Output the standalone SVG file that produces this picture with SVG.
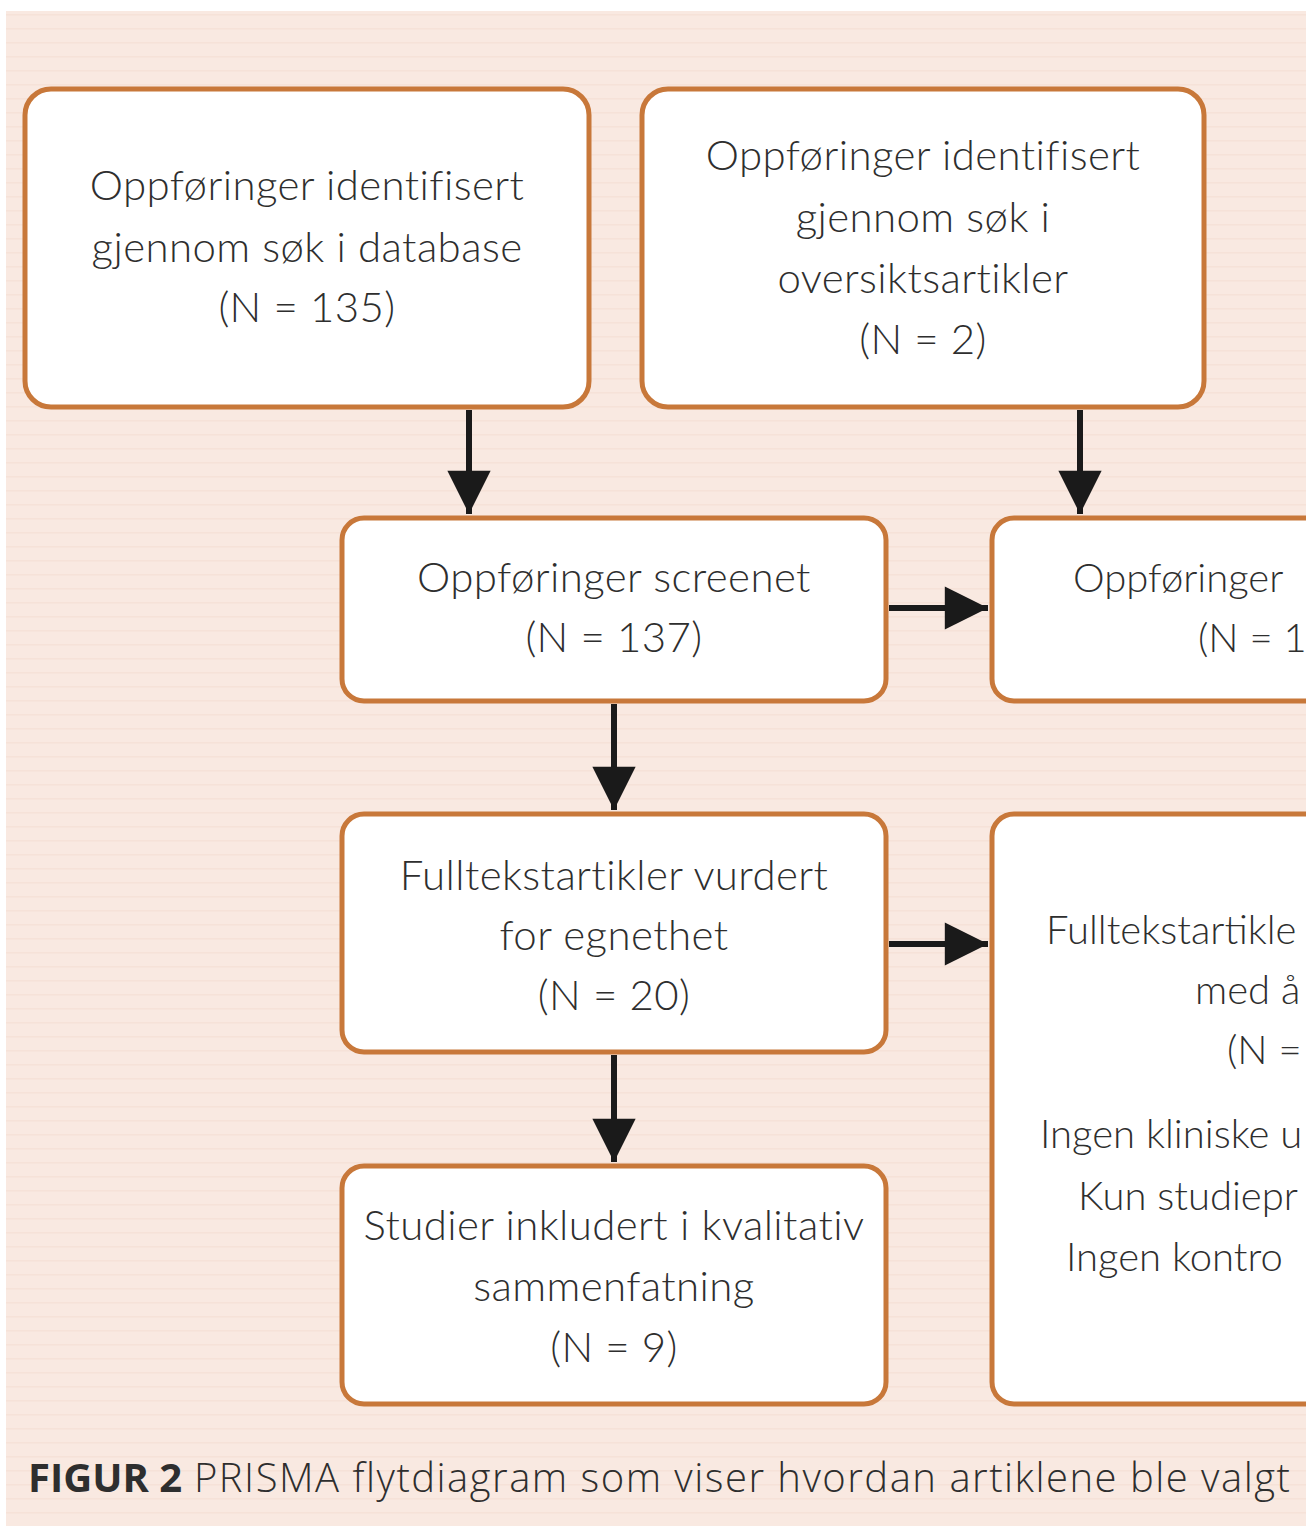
<svg xmlns="http://www.w3.org/2000/svg" width="1306" height="1526" viewBox="0 0 1306 1526">
<defs>
<style>
.box{fill:#ffffff;stroke:#c8783a;stroke-width:5}
.t{font-family:Lato,"Open Sans","Liberation Sans",sans-serif;font-weight:300;font-size:42px;letter-spacing:0.4px;fill:#2e2e2e;text-anchor:middle}
.ts{font-family:Lato,"Open Sans","Liberation Sans",sans-serif;font-weight:300;font-size:40px;fill:#2e2e2e}
.cap{font-family:"Open Sans","Liberation Sans",sans-serif;font-size:40px;fill:#2e2e2e}
.conn{stroke:#1a1a1a;stroke-width:6;fill:none}
</style>
<marker id="ah" viewBox="0 0 10 10" refX="10" refY="5" markerWidth="8" markerHeight="7.2" markerUnits="strokeWidth" orient="auto">
<path d="M0,0 L10,5 L0,10 z" fill="#1a1a1a"/>
</marker>
<pattern id="stripes" width="10" height="14" patternUnits="userSpaceOnUse">
<rect width="10" height="14" fill="#f9e9e1"/>
<rect y="0" width="10" height="1.5" fill="#f6e2d8"/>
</pattern>
</defs>
<rect width="1306" height="1526" fill="#ffffff"/>
<rect x="6" y="11" width="1300" height="1515" fill="url(#stripes)"/>

<g id="connectors">
<line class="conn" x1="469" y1="410" x2="469" y2="514" marker-end="url(#ah)"/>
<line class="conn" x1="1080" y1="410" x2="1080" y2="514" marker-end="url(#ah)"/>
<line class="conn" x1="889" y1="608" x2="988" y2="608" marker-end="url(#ah)"/>
<line class="conn" x1="614" y1="704" x2="614" y2="810" marker-end="url(#ah)"/>
<line class="conn" x1="889" y1="944" x2="988" y2="944" marker-end="url(#ah)"/>
<line class="conn" x1="614" y1="1055" x2="614" y2="1162" marker-end="url(#ah)"/>
</g>

<g id="n1">
<rect class="box" x="25" y="89" width="564" height="318" rx="26"/>
<text class="t" x="307" y="200">Oppføringer identifisert</text>
<text class="t" x="307" y="262">gjennom søk i database</text>
<text class="t" x="307" y="322">(N = 135)</text>
</g>
<g id="n2">
<rect class="box" x="642" y="89" width="562" height="318" rx="26"/>
<text class="t" x="923" y="170">Oppføringer identifisert</text>
<text class="t" x="923" y="232">gjennom søk i</text>
<text class="t" x="923" y="293">oversiktsartikler</text>
<text class="t" x="923" y="354">(N = 2)</text>
</g>
<g id="n3">
<rect class="box" x="342" y="518" width="544" height="183" rx="22"/>
<text class="t" x="614" y="592">Oppføringer screenet</text>
<text class="t" x="614" y="652">(N = 137)</text>
</g>
<g id="n4">
<rect class="box" x="992" y="518" width="340" height="183" rx="22"/>
<text class="ts" x="1073" y="592">Oppføringer</text>
<text class="ts" x="1198" y="652" font-size="38">(N = 1</text>
</g>
<g id="n5">
<rect class="box" x="342" y="814" width="544" height="238" rx="22"/>
<text class="t" x="614" y="890">Fulltekstartikler vurdert</text>
<text class="t" x="614" y="950">for egnethet</text>
<text class="t" x="614" y="1010">(N = 20)</text>
</g>
<g id="n6">
<rect class="box" x="992" y="814" width="340" height="590" rx="22"/>
<text class="ts" x="1046" y="944">Fulltekstartikle</text>
<text class="ts" x="1195" y="1004">med å</text>
<text class="ts" x="1227" y="1064">(N =</text>
<text class="ts" x="1040" y="1148">Ingen kliniske u</text>
<text class="ts" x="1078" y="1210">Kun studiepr</text>
<text class="ts" x="1066" y="1271">Ingen kontro</text>
</g>
<g id="n7">
<rect class="box" x="342" y="1166" width="544" height="238" rx="22"/>
<text class="t" x="614" y="1240">Studier inkludert i kvalitativ</text>
<text class="t" x="614" y="1301">sammenfatning</text>
<text class="t" x="614" y="1362">(N = 9)</text>
</g>
<g id="caption">
<text class="cap" x="28" y="1492"><tspan font-weight="700">FIGUR 2</tspan><tspan font-weight="300" letter-spacing="1.5"> PRISMA flytdiagram som viser hvordan artiklene ble valgt</tspan></text>
</g>
</svg>
